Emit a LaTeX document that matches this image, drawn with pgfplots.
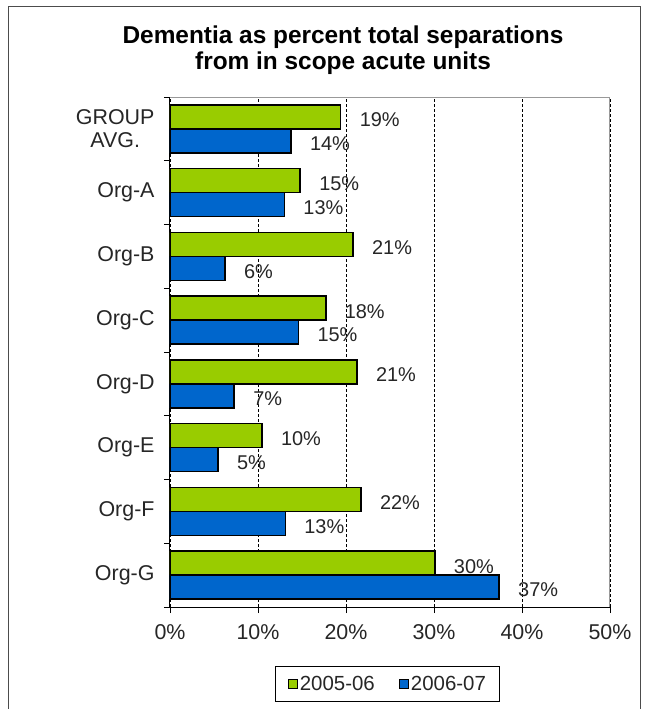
\documentclass[border=0pt]{standalone}
\usepackage{fontspec}
\setmainfont{Liberation Sans}
\usepackage{pgfplots}
\pgfplotsset{compat=1.18}
\pgfplotsset{/pgf/number format/assume math mode=true}
\definecolor{barGreen}{HTML}{99CC00}
\definecolor{barBlue}{HTML}{0066CC}

\begin{document}
\begin{tikzpicture}
\path[use as bounding box] (-170bp,-102bp) rectangle (484bp,607bp);
% outer chart frame
\draw[gray!60!black, line width=1bp] (-161bp,-110bp) -- (-161bp,600bp) -- (470bp,600bp) -- (470bp,-110bp);
\node[font=\bfseries\fontsize{24.5}{26}\selectfont, align=center] at (173bp,557bp)
  {Dementia as percent total separations\\from in scope acute units};
\begin{axis}[
  name=ax, at={(0,0)}, anchor=south west,
  scale only axis, width=440bp, height=510bp,
  xbar, bar width=0.376,
  xmin=0, xmax=50, ymin=-0.5, ymax=7.5,
  axis lines*=left, axis line style={black, line width=1bp, -},
  tick align=outside, major tick length=6bp,
  tick style={black, line width=0.8bp},
  xtick={0,10,...,50},
  xticklabel={\pgfmathprintnumber{\tick}\%},
  xticklabel style={yshift=-8bp},
  ytick={-0.5,0.5,...,7.5}, yticklabels={},
  extra y ticks={0,1,2,3,4,5,6,7},
  extra y tick labels={Org-G,Org-F,Org-E,Org-D,Org-C,Org-B,Org-A,{GROUP\\AVG.}},
  extra y tick style={major tick length=0pt, yticklabel style={align=center, xshift=-12bp}},
  ticklabel style={font=\fontsize{21.5}{23}\selectfont, text=black!85},
  xmajorgrids, major grid style={black, line width=0.6bp, dash pattern=on 3bp off 2bp},
  point meta=x,
  nodes near coords={\pgfmathprintnumber[fixed,precision=0]{\pgfplotspointmeta}\%},
  every node near coord/.append style={anchor=west, xshift=15bp, yshift=-3bp, text=black!85,
    font=\fontsize{20}{22}\selectfont},
  legend style={at={(0.495,-0.151)}, anchor=center, legend columns=2,
    draw=black, line width=1bp, font=\fontsize{20.5}{22}\selectfont,
    inner xsep=12bp, inner ysep=8bp, text=black!85,
    /tikz/every even column/.append style={column sep=22bp}},
  legend image code/.code={\draw[#1, draw=black, line width=1.2bp] (0bp,-4.5bp) rectangle (9bp,4.5bp);},
]
\addplot[fill=barGreen, draw=black, line width=1.5bp, bar shift=0.188] coordinates {
  (30.1,0) (21.7,1) (10.45,2) (21.25,3) (17.7,4) (20.8,5) (14.8,6) (19.4,7)};
\addplot[fill=barBlue, draw=black, line width=1.5bp, bar shift=-0.188] coordinates {
  (37.4,0) (13.1,1) (5.45,2) (7.3,3) (14.6,4) (6.25,5) (13.0,6) (13.75,7)};
\legend{2005-06,2006-07}
\end{axis}
\draw[gray!80, line width=1bp] (ax.north west) -- (ax.north east) -- (ax.south east);
\end{tikzpicture}
\end{document}
